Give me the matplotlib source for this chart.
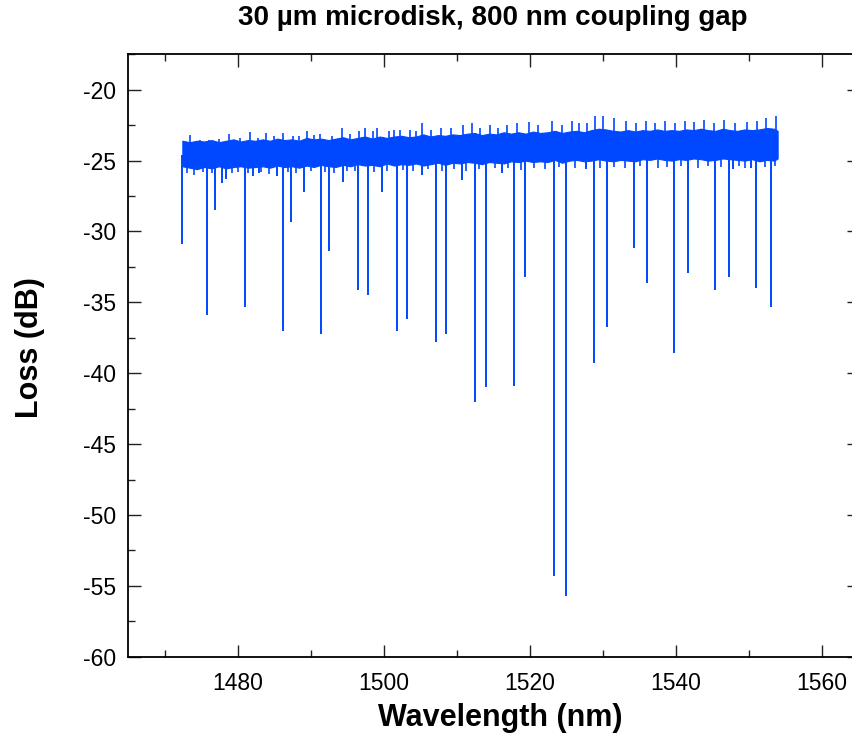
import matplotlib
matplotlib.use("Agg")
import matplotlib.pyplot as plt
from matplotlib.ticker import MultipleLocator

plt.rcParams['font.family'] = ['Liberation Sans', 'DejaVu Sans']

# Solid core of the noisy baseline: upper / lower edge read per ~1 nm
band_wl = [1472.4, 1473.4, 1474.4, 1475.4, 1476.4, 1477.4, 1478.4, 1479.4, 1480.4, 1481.4,
           1482.4, 1483.4, 1484.4, 1485.4, 1486.4, 1487.4, 1488.4, 1489.4, 1490.4, 1491.4,
           1492.4, 1493.4, 1494.4, 1495.4, 1496.4, 1497.4, 1498.4, 1499.4, 1500.4, 1501.4,
           1502.4, 1503.4, 1504.4, 1505.4, 1506.4, 1507.4, 1508.4, 1509.4, 1510.4, 1511.4,
           1512.4, 1513.4, 1514.4, 1515.4, 1516.4, 1517.4, 1518.4, 1519.4, 1520.4, 1521.4,
           1522.4, 1523.4, 1524.4, 1525.4, 1526.4, 1527.4, 1528.4, 1529.4, 1530.4, 1531.4,
           1532.4, 1533.4, 1534.4, 1535.4, 1536.4, 1537.4, 1538.4, 1539.4, 1540.4, 1541.4,
           1542.4, 1543.4, 1544.4, 1545.4, 1546.4, 1547.4, 1548.4, 1549.4, 1550.4, 1551.4,
           1552.4, 1553.4, 1553.9]
band_upper = [-23.6, -23.7, -23.6, -23.65, -23.55, -23.7, -23.6, -23.5, -23.65, -23.55,
              -23.6, -23.5, -23.6, -23.45, -23.55, -23.5, -23.6, -23.4, -23.5, -23.45,
              -23.55, -23.45, -23.35, -23.5, -23.4, -23.3, -23.45, -23.3, -23.4, -23.3,
              -23.25, -23.35, -23.3, -23.15, -23.3, -23.2, -23.25, -23.15, -23.2, -23.1,
              -23.05, -23.2, -23.1, -23.15, -23.0, -23.1, -23.0, -23.1, -22.95, -23.05,
              -23.0, -22.9, -23.05, -22.95, -22.9, -23.0, -22.85, -22.75, -22.8, -22.9,
              -22.95, -22.85, -22.95, -22.85, -22.9, -22.8, -22.9, -22.85, -22.9, -22.8,
              -22.85, -22.75, -22.85, -22.9, -22.75, -22.85, -22.9, -22.8, -22.85, -22.8,
              -22.7, -22.75, -22.9]
band_lower = [-25.4, -25.5, -25.6, -25.45, -25.55, -25.4, -25.55, -25.45, -25.4, -25.5,
              -25.45, -25.4, -25.5, -25.35, -25.45, -25.4, -25.5, -25.35, -25.45, -25.3,
              -25.4, -25.45, -25.3, -25.4, -25.25, -25.35, -25.3, -25.4, -25.2, -25.35,
              -25.25, -25.3, -25.2, -25.35, -25.25, -25.15, -25.3, -25.15, -25.2, -25.1,
              -25.15, -25.25, -25.1, -25.15, -25.2, -25.05, -25.1, -25.0, -25.1, -25.05,
              -25.1, -24.95, -25.15, -25.0, -24.95, -25.05, -25.0, -24.9, -25.0, -25.05,
              -24.95, -25.0, -25.05, -24.9, -24.95, -24.85, -24.95, -25.0, -24.9, -24.95,
              -24.85, -24.9, -25.0, -24.95, -24.85, -24.9, -24.95, -25.0, -24.9, -25.05,
              -24.95, -25.0, -24.85]

# Upward noise spikes of the baseline: wavelength (nm) and peak value (dB)
spike_up_wl = [1473.43, 1474.76, 1476.09, 1477.43, 1478.76, 1480.36, 1481.69, 1482.76,
               1483.83, 1484.89, 1486.23, 1487.56, 1488.36, 1489.43, 1490.49, 1491.29,
               1492.89, 1494.23, 1495.29, 1496.63, 1497.43, 1498.49, 1499.03, 1500.63,
               1501.43, 1502.23, 1503.56, 1504.36, 1505.16, 1506.49, 1507.83, 1509.16,
               1510.76, 1512.09, 1513.16, 1514.49, 1515.56, 1516.89, 1518.23, 1519.83,
               1521.16, 1523.03, 1524.36, 1525.69, 1526.76, 1527.83, 1528.89, 1529.96,
               1531.56, 1533.16, 1534.49, 1535.83, 1537.16, 1538.49, 1539.83, 1541.16,
               1542.49, 1543.83, 1545.16, 1546.49, 1548.09, 1549.69, 1551.03, 1552.36,
               1553.69]
spike_up_val = [-23.17, -23.53, -23.53, -23.48, -23.10, -23.41, -23.01, -23.41,
                -23.06, -23.29, -23.06, -23.29, -23.25, -22.94, -23.17, -23.10,
                -23.29, -22.70, -23.10, -22.94, -22.70, -22.94, -22.70, -22.94,
                -22.82, -22.82, -22.87, -22.94, -22.35, -22.82, -22.70, -22.70,
                -22.47, -22.35, -22.70, -22.47, -22.70, -22.47, -22.35, -22.30,
                -22.47, -22.23, -22.47, -22.23, -22.35, -22.35, -21.88, -21.83,
                -22.00, -22.23, -22.35, -22.23, -22.35, -22.23, -22.35, -22.23,
                -22.30, -22.12, -22.35, -22.12, -22.35, -22.30, -22.23, -22.00,
                -21.83]

# Downward noise spikes of the baseline
spike_dn_wl = [1473.0, 1474.0, 1475.2, 1476.5, 1479.2, 1480.0, 1481.4, 1483.2, 1484.2,
               1486.8, 1488.0, 1490.0, 1491.9, 1493.2, 1495.0, 1496.0, 1498.6, 1500.4,
               1502.6, 1504.0, 1506.0, 1508.0, 1509.6, 1511.3, 1513.0, 1515.2, 1517.0,
               1518.7, 1520.5, 1522.0, 1524.0, 1526.2, 1529.6, 1531.5, 1533.0, 1535.0,
               1537.5, 1538.8, 1540.7, 1543.0, 1544.3, 1546.2, 1548.6, 1549.4, 1552.2,
               1553.6]
spike_dn_val = [-25.9, -26.0, -25.8, -25.9, -25.9, -25.8, -25.85, -25.8, -25.95,
                -25.8, -25.9, -25.75, -25.8, -25.85, -25.7, -25.75, -25.8, -25.7,
                -25.65, -25.7, -25.6, -25.75, -25.6, -25.7, -25.6, -25.55, -25.5,
                -25.65, -25.5, -25.6, -25.45, -25.55, -25.5, -25.45, -25.55, -25.4,
                -25.5, -25.45, -25.4, -25.5, -25.35, -25.45, -25.4, -25.55, -25.45,
                -25.35]

# Resonance dips: wavelength (nm) and minimum loss (dB)
dip_wl = [1472.36, 1475.83, 1476.93, 1477.89, 1478.39, 1480.96, 1482.09, 1482.88, 1485.38,
          1486.21, 1487.30, 1489.05, 1491.32, 1492.51, 1494.39, 1496.49, 1497.82, 1499.78,
          1501.80, 1503.17, 1505.22, 1507.08, 1508.55, 1510.65, 1512.49, 1514.00, 1516.19,
          1517.80, 1519.38, 1523.26, 1524.90, 1527.60, 1528.70, 1530.48, 1534.22, 1536.06,
          1539.76, 1541.68, 1545.38, 1547.30, 1547.85, 1550.32, 1551.00, 1553.06]
dip_min = [-30.9, -35.9, -28.5, -26.6, -26.3, -35.3, -26.1, -25.9, -26.1,
           -37.05, -29.3, -27.2, -37.2, -31.4, -26.5, -34.1, -34.5, -27.2,
           -37.0, -36.2, -26.0, -37.8, -37.2, -26.4, -42.05, -41.0, -25.9,
           -40.9, -33.2, -54.3, -55.7, -25.6, -39.25, -36.75, -31.2, -33.6,
           -38.6, -32.9, -34.1, -33.2, -25.6, -25.5, -34.0, -35.3]

x_major = [1480, 1500, 1520, 1540, 1560]
y_major = [-20, -25, -30, -35, -40, -45, -50, -55, -60]

color = '#0048ff'
W, H = 852, 745
fig = plt.figure(figsize=(W / 100, H / 100), dpi=100)
ax = fig.add_axes([128.3 / W, 1 - 656.7 / H, (858.7 - 128.3) / W, (656.7 - 54.3) / H])

ax.fill_between(band_wl, band_lower, band_upper, color=color, lw=0.8, edgecolor=color)
ax.vlines(spike_up_wl, [-24.0] * len(spike_up_wl), spike_up_val, color=color, lw=1.2)
ax.vlines(spike_dn_wl, spike_dn_val, [-24.5] * len(spike_dn_wl), color=color, lw=1.2)
ax.vlines(dip_wl, dip_min, [-24.6] * len(dip_wl), color=color, lw=1.4)

ax.set_xlim(1465, 1565)
ax.set_ylim(-60, -17.5)
ax.set_xticks(x_major)
ax.set_yticks(y_major)
ax.set_yticklabels([str(v) for v in y_major])
ax.xaxis.set_minor_locator(MultipleLocator(10))
ax.yaxis.set_minor_locator(MultipleLocator(2.5))
ax.tick_params(which='both', direction='in', top=True, right=True, width=1.0,
               color='#222222')
ax.tick_params(which='major', length=9)
ax.tick_params(which='minor', length=5)
ax.tick_params(axis='x', which='major', labelsize=16.5, pad=11)
ax.tick_params(axis='y', which='major', labelsize=16.5, pad=9)
for s in ax.spines.values():
    s.set_linewidth(1.3)

fig.text(493 / W, 1 - 18 / H, '30 µm microdisk, 800 nm coupling gap', ha='center',
         va='center', fontsize=20, fontweight='bold')
fig.text(500 / W, 1 - 718 / H, 'Wavelength (nm)', ha='center', va='center',
         fontsize=22, fontweight='bold')
fig.text(30 / W, 1 - 348 / H, 'Loss (dB)', ha='center', va='center', rotation=90,
         fontsize=22, fontweight='bold')

fig.savefig('out.png', dpi=100)
